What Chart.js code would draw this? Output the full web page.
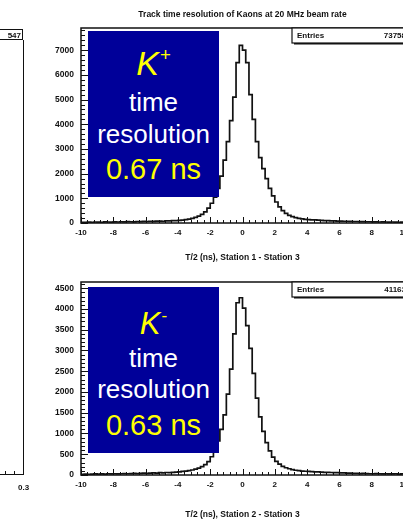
<!DOCTYPE html>
<html><head><meta charset="utf-8">
<script src="https://cdn.jsdelivr.net/npm/chart.js@4/dist/chart.umd.min.js"></script>
<style>
html,body{margin:0;padding:0;width:403px;height:521px;overflow:hidden;background:#fff;position:relative;}
canvas{position:absolute;left:0;}
.box{position:absolute;left:88px;width:131px;height:166px;background:#000099;font-family:"Liberation Sans",Arial,sans-serif;}
.box div{position:absolute;left:0;width:100%;text-align:center;line-height:1;white-space:nowrap;}
.k{color:#ffff00;font-style:italic;}
.k sup{font-size:55%;font-style:normal;vertical-align:0.75em;margin-left:1px;}
.w{color:#fff;font-size:26px;}
.v{color:#ffff00;font-size:29px;}
.side{position:absolute;font-family:"Liberation Sans",Arial,sans-serif;font-weight:bold;font-size:8px;color:#111;}
</style></head>
<body>
<canvas id="cPlus" width="420" height="270" style="top:0px"></canvas>
<canvas id="cMinus" width="420" height="259" style="top:262px"></canvas>

<div class="box" style="top:31px">
  <div class="k" style="top:15px;font-size:34px">K<sup>+</sup></div>
  <div class="w" style="top:58px">time</div>
  <div class="w" style="top:90px">resolution</div>
  <div class="v" style="top:124px">0.67 ns</div>
</div>
<div class="box" style="top:287px">
  <div class="k" style="top:20px;font-size:31px">K<sup>-</sup></div>
  <div class="w" style="top:58px">time</div>
  <div class="w" style="top:89px">resolution</div>
  <div class="v" style="top:124px">0.63 ns</div>
</div>

<!-- partial neighbouring plot at left edge -->
<div class="side" style="left:-6px;top:29px;width:29px;height:11px;border:1.5px solid #111;text-align:right;line-height:11px;padding-right:1px;box-sizing:border-box;">547</div>
<div style="position:absolute;left:23px;top:40px;width:0;height:435px;border-left:1.5px solid #111;"></div>
<div style="position:absolute;left:0px;top:474px;width:24px;height:0;border-top:1.5px solid #111;"></div>
<div style="position:absolute;left:5px;top:471px;width:0;height:3px;border-left:1px solid #111;"></div>
<div style="position:absolute;left:14px;top:471px;width:0;height:3px;border-left:1px solid #111;"></div>
<div class="side" style="left:18px;top:483px;">0.3</div>

<script>
// ---- data ----
const binStart = -10;
const binWidth = 0.2;
// K+ : T/2 (ns), Station 1 - Station 3   (bin centres -9.9 ... 9.9)
const kPlusCounts = [
  30,25,35,30,40,35,30,45,40,35,45,40,50,45,55,50,45,60,55,65,
  60,70,65,75,80,70,85,90,95,100,
  110,120,140,160,190,230,280,350,450,600,
  800,1050,1400,1900,2550,3300,4150,5100,6500,7200,
  7000,6500,5200,4200,3300,2650,2200,1800,1400,1100,
  850,650,500,390,310,260,220,190,170,150,
  140,130,125,115,110,100,95,90,85,80,
  75,70,70,65,60,60,55,55,50,50,45,45,40,45,40,35,40,35,30,35
];
// K- : T/2 (ns), Station 2 - Station 3
const kMinusCounts = [
  15,20,15,20,25,20,25,20,30,25,30,25,30,35,30,35,40,35,40,45,
  40,45,50,45,55,50,60,55,65,70,
  75,85,95,105,120,140,165,200,250,320,
  440,600,820,1100,1450,1950,2550,3400,4150,4270,
  4020,3600,3050,2450,1850,1400,1050,780,580,430,
  330,260,210,175,150,130,115,105,95,90,
  85,80,75,75,70,65,65,60,55,55,
  50,50,45,45,40,40,35,40,35,30,30,35,30,25,30,25,25,30,20,25
];
const xTickLabels = [-10,-8,-6,-4,-2,0,2,4,6,8,10];
const kPlusYTicks = [0,1000,2000,3000,4000,5000,6000,7000];
const kMinusYTicks = [0,500,1000,1500,2000,2500,3000,3500,4000,4500];
const plotTitle = "Track time resolution of Kaons at 20 MHz beam rate";
const kPlusXTitle = "T/2 (ns), Station 1 - Station 3";
const kMinusXTitle = "T/2 (ns), Station 2 - Station 3";
const kPlusEntries = "73758";
const kMinusEntries = "41163";

function toPoints(counts){
  const pts = counts.map((c,i)=>({x: binStart + i*binWidth, y: c}));
  pts.push({x: binStart + counts.length*binWidth, y: counts[counts.length-1]});
  return pts;
}

const FONT = '"Liberation Sans", Arial, sans-serif';

const rootFrame = {
  id: 'rootFrame',
  afterDatasetsDraw(chart, args, o){
    const {ctx, chartArea:a, scales:{x, y}} = chart;
    ctx.save();
    ctx.strokeStyle = '#111';
    ctx.lineWidth = 1;
    ctx.beginPath();
    // x ticks (inside, from bottom)
    const nx = Math.round((x.max - x.min)/o.xMinor);
    for (let i=0;i<=nx;i++){
      const v = x.min + i*o.xMinor;
      const px = Math.round(x.getPixelForValue(v))+0.5;
      const major = (i % o.xPer) === 0;
      ctx.moveTo(px, a.bottom); ctx.lineTo(px, a.bottom - (major?6:3));
    }
    // y ticks (inside, from left)
    const ny = Math.floor((y.max - y.min)/o.yMinor);
    for (let i=0;i<=ny;i++){
      const v = y.min + i*o.yMinor;
      const py = Math.round(y.getPixelForValue(v))+0.5;
      const major = (i % o.yPer) === 0;
      ctx.moveTo(a.left, py); ctx.lineTo(a.left + (major?7:4), py);
    }
    ctx.stroke();
    // frame
    ctx.lineWidth = 1.5;
    ctx.strokeRect(a.left, a.top, a.right - a.left, a.bottom - a.top);
    // statistics box
    const bx = 292, by = a.top, bw = 130, bh = 15;
    ctx.fillStyle = '#fff';
    ctx.fillRect(bx, by, bw, bh);
    ctx.lineWidth = 1.2;
    ctx.strokeRect(bx, by, bw, bh);
    ctx.fillStyle = '#111';
    ctx.fillRect(bx+2, by+bh, bw, 1.5);
    ctx.font = 'bold 8px ' + FONT;
    ctx.textBaseline = 'middle';
    ctx.textAlign = 'left';
    ctx.fillText('Entries', bx+5, by+bh/2+0.5);
    ctx.textAlign = 'right';
    ctx.fillText(o.entries, 406, by+bh/2+0.5);
    // plot title
    if (o.title){
      ctx.textAlign = 'center';
      ctx.font = 'bold 8.5px ' + FONT;
      ctx.fillText(o.title, (a.left + a.right)/2, 15);
    }
    ctx.restore();
  }
};

function makeHist(id, counts, yTicks, yMax, yMinor, xTitle, entries, title, pad, xH){
  return new Chart(document.getElementById(id), {
    type: 'line',
    data: { datasets: [{
      data: toPoints(counts),
      stepped: 'before',
      borderColor: '#111',
      borderWidth: 1.7,
      pointRadius: 0,
      fill: false
    }]},
    options: {
      responsive: false,
      animation: false,
      devicePixelRatio: 1,
      layout: { padding: pad },
      plugins: {
        legend: {display:false},
        tooltip: {enabled:false},
        rootFrame: { xMinor: 0.4, xPer: 5, yMinor: yMinor, yPer: 5, entries: entries, title: title }
      },
      scales: {
        x: {
          type: 'linear', min: -10, max: 10,
          afterBuildTicks: s => { s.ticks = xTickLabels.map(v => ({value: v})); },
          afterFit: s => { s.height = xH; },
          grid: {display:false, drawTicks:false},
          border: {display:false},
          ticks: {padding: 5, maxRotation: 0, autoSkip: false, color:'#111',
                  font: {family: FONT, size: 8, weight: 'bold'},
                  callback: v => String(v)},
          title: {display:true, text: xTitle, color:'#111', padding: {top:0, bottom:0},
                  font: {family: FONT, size: 8.5, weight: 'bold'}}
        },
        y: {
          min: 0, max: yMax,
          afterBuildTicks: s => { s.ticks = yTicks.map(v => ({value: v})); },
          afterFit: s => { s.width = 81; },
          grid: {display:false, drawTicks:false},
          border: {display:false},
          ticks: {padding: 7, autoSkip: false, color:'#111',
                  font: {family: FONT, size: 8.5, weight: 'bold'},
                  callback: v => String(v)}
        }
      }
    },
    plugins: [rootFrame]
  });
}

makeHist('cPlus', kPlusCounts, kPlusYTicks, 7900, 200, kPlusXTitle, kPlusEntries, plotTitle,
         {left:0, right:16, top:28, bottom:7}, 40);
makeHist('cMinus', kMinusCounts, kMinusYTicks, 4650, 100, kMinusXTitle, kMinusEntries, null,
         {left:0, right:16, top:20, bottom:1}, 45);
</script>
</body></html>
